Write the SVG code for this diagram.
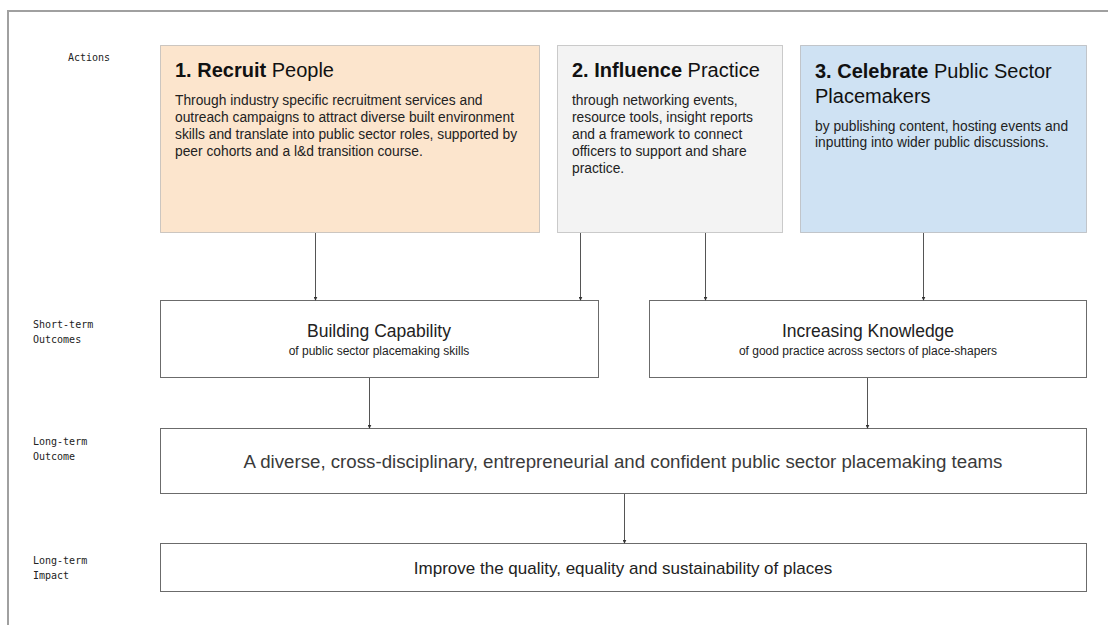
<svg xmlns="http://www.w3.org/2000/svg" width="1108" height="625" viewBox="0 0 1108 625">
  <style>
    .frame { fill: none; stroke: #a0a0a0; stroke-width: 2; }
    .action { stroke: #9a9a9a; stroke-width: 1; stroke-dasharray: 1 1; }
    .outcome { fill: #ffffff; stroke: #6b6b6b; stroke-width: 1; }
    .label { font-family: "DejaVu Sans Mono", "Liberation Mono", monospace; font-size: 10px; fill: #222; }
    .title { font-family: "Liberation Sans", Arial, sans-serif; font-size: 20px; fill: #111; }
    .bold { font-weight: bold; }
    .body { font-family: "Liberation Sans", Arial, sans-serif; font-size: 13.8px; fill: #222; }
    .head { font-family: "Liberation Sans", Arial, sans-serif; font-size: 17.5px; fill: #222; text-anchor: middle; }
    .sub { font-family: "Liberation Sans", Arial, sans-serif; font-size: 12px; fill: #222; text-anchor: middle; }
    .big { font-family: "Liberation Sans", Arial, sans-serif; font-size: 18.7px; fill: #3a3a3a; text-anchor: middle; }
    .imp { font-family: "Liberation Sans", Arial, sans-serif; font-size: 17px; fill: #222; text-anchor: middle; }
    .conn line { stroke: #555; stroke-width: 1; }
  </style>
  <defs>
    <marker id="tip" viewBox="0 0 6 6" refX="5" refY="3" markerWidth="4" markerHeight="4" orient="auto">
      <path d="M0,0 L6,3 L0,6 z" fill="#333"/>
    </marker>
  </defs>

  <rect width="1108" height="625" fill="#ffffff"/>
  <path class="frame" d="M8,640 L8,11 L1120,11"/>

  <!-- row labels -->
  <g id="row-labels">
    <text class="label" x="68" y="61">Actions</text>
    <text class="label" x="33" y="328">Short-term</text>
    <text class="label" x="33" y="343">Outcomes</text>
    <text class="label" x="33" y="445">Long-term</text>
    <text class="label" x="33" y="460">Outcome</text>
    <text class="label" x="33" y="564">Long-term</text>
    <text class="label" x="33" y="579">Impact</text>
  </g>

  <!-- action boxes -->
  <g id="recruit">
    <rect class="action" x="160.5" y="45.5" width="379" height="187" fill="#fce5cd"/>
    <text class="title" x="175" y="77"><tspan class="bold">1. Recruit</tspan> People</text>
    <text class="body" x="175" y="105">Through industry specific recruitment services and</text>
    <text class="body" x="175" y="122">outreach campaigns to attract diverse built environment</text>
    <text class="body" x="175" y="139">skills and translate into public sector roles, supported by</text>
    <text class="body" x="175" y="156">peer cohorts and a l&amp;d transition course.</text>
  </g>

  <g id="influence">
    <rect class="action" x="557.5" y="45.5" width="225" height="187" fill="#f3f3f3"/>
    <text class="title" x="572" y="77"><tspan class="bold">2. Influence</tspan> Practice</text>
    <text class="body" x="572" y="105">through networking events,</text>
    <text class="body" x="572" y="122">resource tools, insight reports</text>
    <text class="body" x="572" y="139">and a framework to connect</text>
    <text class="body" x="572" y="156">officers to support and share</text>
    <text class="body" x="572" y="173">practice.</text>
  </g>

  <g id="celebrate">
    <rect class="action" x="800.5" y="45.5" width="286" height="187" fill="#cfe2f3"/>
    <text class="title" x="815" y="78"><tspan class="bold">3. Celebrate</tspan> Public Sector</text>
    <text class="title" x="815" y="103">Placemakers</text>
    <text class="body" x="815" y="131">by publishing content, hosting events and</text>
    <text class="body" x="815" y="147">inputting into wider public discussions.</text>
  </g>

  <!-- short-term outcomes -->
  <g id="capability">
    <rect class="outcome" x="160.5" y="300.5" width="438" height="77"/>
    <text class="head" x="379" y="337">Building Capability</text>
    <text class="sub" x="379" y="355">of public sector placemaking skills</text>
  </g>

  <g id="knowledge">
    <rect class="outcome" x="649.5" y="300.5" width="437" height="77"/>
    <text class="head" x="868" y="337">Increasing Knowledge</text>
    <text class="sub" x="868" y="355">of good practice across sectors of place-shapers</text>
  </g>

  <!-- long-term outcome -->
  <g id="teams">
    <rect class="outcome" x="160.5" y="428.5" width="926" height="65"/>
    <text class="big" x="623" y="468">A diverse, cross-disciplinary, entrepreneurial and confident public sector placemaking teams</text>
  </g>

  <!-- long-term impact -->
  <g id="impact">
    <rect class="outcome" x="160.5" y="543.5" width="926" height="48"/>
    <text class="imp" x="623" y="574">Improve the quality, equality and sustainability of places</text>
  </g>

  <!-- connectors -->
  <g class="conn" id="connectors">
    <line x1="315.5" y1="233" x2="315.5" y2="300" marker-end="url(#tip)"/>
    <line x1="580.5" y1="233" x2="580.5" y2="300" marker-end="url(#tip)"/>
    <line x1="705.5" y1="233" x2="705.5" y2="300" marker-end="url(#tip)"/>
    <line x1="923.5" y1="233" x2="923.5" y2="300" marker-end="url(#tip)"/>
    <line x1="369.5" y1="378" x2="369.5" y2="428" marker-end="url(#tip)"/>
    <line x1="867.5" y1="378" x2="867.5" y2="428" marker-end="url(#tip)"/>
    <line x1="624.5" y1="494" x2="624.5" y2="543" marker-end="url(#tip)"/>
  </g>
</svg>
